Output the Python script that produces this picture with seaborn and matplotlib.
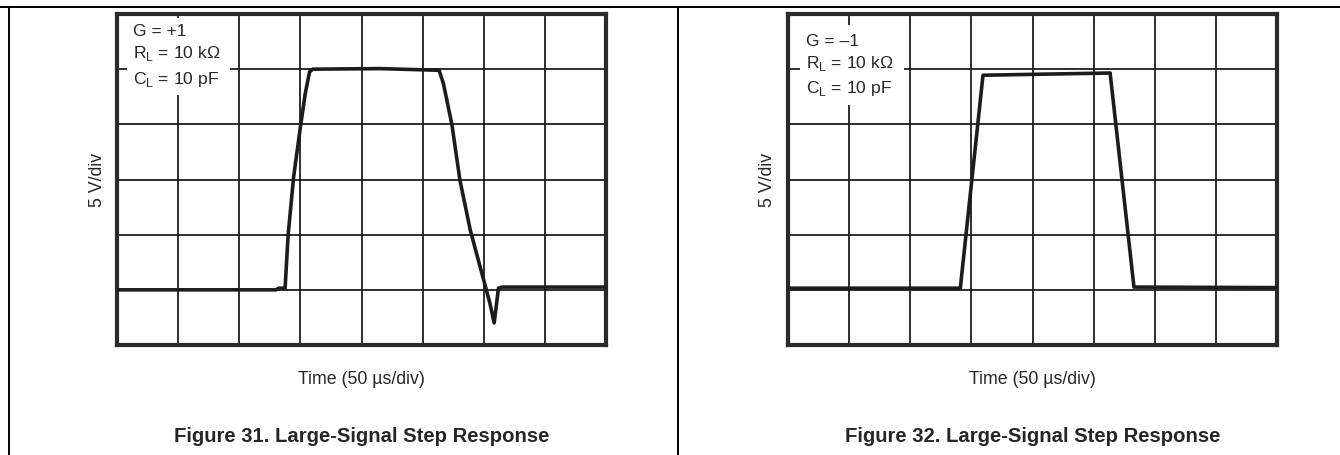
import pandas as pd
import matplotlib.pyplot as plt
import seaborn as sns
from matplotlib.lines import Line2D
from matplotlib.patches import Rectangle

sns.set_style("white")
plt.rcParams['font.family'] = ['Liberation Sans', 'DejaVu Sans']
plt.rcParams['mathtext.fontset'] = 'custom'
plt.rcParams['mathtext.rm'] = 'Liberation Sans'

# scope traces, read in screen divisions (x: 50 us/div, y: 5 V/div)
t_pos = [0, 2.60, 2.65, 2.75, 2.80, 2.89, 3.00, 3.08, 3.15, 3.20, 4.30, 5.27,
         5.34, 5.48, 5.61, 5.78, 5.94, 6.10, 6.17, 6.21, 6.24, 6.30, 8.0]
v_pos = [1.0, 1.0, 1.03, 1.03, 2.0, 3.05, 3.95, 4.56, 4.95, 5.0, 5.01, 4.98,
         4.74, 3.99, 2.99, 2.08, 1.42, 0.76, 0.40, 0.75, 1.03, 1.05, 1.05]

t_neg = [0, 2.82, 2.84, 3.19, 4.20, 5.27, 5.66, 8.0]
v_neg = [1.03, 1.03, 1.25, 4.89, 4.91, 4.93, 1.05, 1.04]

notes_pos = ["G = +1", r"R$_\mathregular{L}$ = 10 kΩ", r"C$_\mathregular{L}$ = 10 pF"]
notes_neg = ["G = \u20131", r"R$_\mathregular{L}$ = 10 kΩ", r"C$_\mathregular{L}$ = 10 pF"]
captions = ["Figure 31. Large-Signal Step Response", "Figure 32. Large-Signal Step Response"]

W, H = 1340, 455
fig = plt.figure(figsize=(W / 100, H / 100), dpi=100)

panels = [
    (117, t_pos, v_pos, notes_pos, 0.26, [5.60, 5.20, 4.73], (0.16, 4.53, 1.69, 1.39), captions[0]),
    (788, t_neg, v_neg, notes_neg, 0.29, [5.42, 5.02, 4.57], (0.20, 4.35, 1.70, 1.45), captions[1]),
]

for left, t, v, notes, tx, ty, box, cap in panels:
    ax = fig.add_axes([left / W, 1 - 345 / H, 489 / W, 331 / H])
    df = pd.DataFrame({"t": t, "v": v})
    sns.lineplot(data=df, x="t", y="v", ax=ax, color="#1c1c1c", lw=2.6,
                 sort=False, estimator=None, zorder=3)
    ax.set_xlim(0, 8)
    ax.set_ylim(0, 6)
    ax.set_xticks(range(9))
    ax.set_yticks(range(7))
    ax.grid(True, color="#1e1e1e", lw=1.3)
    ax.tick_params(length=0, labelbottom=False, labelleft=False)
    ax.set_xlabel("")
    ax.set_ylabel("")
    for s in ax.spines.values():
        s.set_linewidth(3)
        s.set_color("#2a2a2a")
    ax.add_patch(Rectangle((box[0], box[1]), box[2], box[3], facecolor="white",
                           edgecolor="none", zorder=2))
    for txt, y in zip(notes, ty):
        ax.text(tx, y, txt, fontsize=12.6, va="baseline", ha="left", zorder=4)

    cx = (left + 244.5) / W
    fig.text(cx, 1 - 380 / H, "Time (50 µs/div)", ha="center", va="center", fontsize=12.8)
    fig.text((left - 20) / W, 1 - 180 / H, "5 V/div", ha="center", va="center",
             rotation=90, fontsize=12.8)
    fig.text(cx, 1 - 437 / H, cap, ha="center", va="center", fontsize=14.6,
             fontweight="bold")

# page frame lines
fig.add_artist(Line2D([0, 1], [1 - 7 / H, 1 - 7 / H], color="black", lw=1.4))
for xp in [9, 678]:
    fig.add_artist(Line2D([xp / W, xp / W], [0, 1 - 7 / H], color="black", lw=1.4))

fig.savefig("out.png", dpi=100)
